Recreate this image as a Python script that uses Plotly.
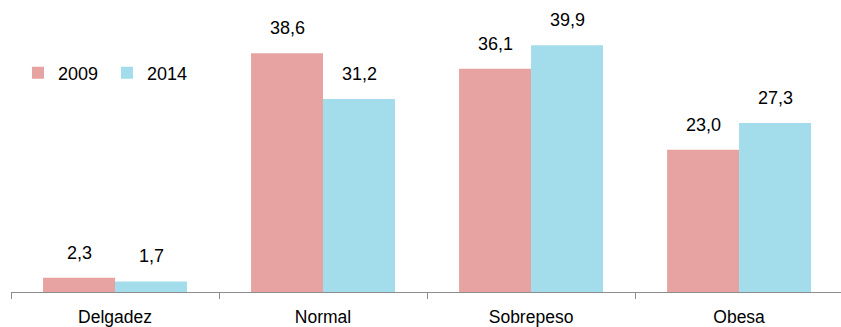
import plotly.graph_objects as go

categories = ["Delgadez", "Normal", "Sobrepeso", "Obesa"]
values_2009 = [2.3, 38.6, 36.1, 23.0]
values_2014 = [1.7, 31.2, 39.9, 27.3]
series_names = ["2009", "2014"]
colors = ["#E6A3A2", "#A3DCEA"]

font_family = "Liberation Sans, Arial, sans-serif"

fig = go.Figure()
for name, vals, col in zip(series_names, [values_2009, values_2014], colors):
    fig.add_trace(go.Bar(
        x=categories, y=vals, name=name, marker=dict(color=col, line=dict(width=0)),
    ))

# value labels above the bars
for vals, shift in zip([values_2009, values_2014], [-36, 36]):
    for c, v in zip(categories, vals):
        fig.add_annotation(
            x=c, y=v, xref="x", yref="y", text=f"{v:.1f}".replace(".", ","),
            showarrow=False, xshift=shift, yshift=13, yanchor="bottom", xanchor="center",
            font=dict(size=18, color="#000000", family=font_family),
        )

fig.update_layout(
    width=841, height=327,
    margin=dict(l=11, r=0, t=0, b=35),
    paper_bgcolor="white", plot_bgcolor="white",
    barmode="group", bargap=0.308, bargroupgap=0,
    font=dict(family=font_family, size=18, color="#000000"),
    showlegend=True,
    legend=dict(orientation="h", x=0.0084, y=0.75, xanchor="left", yanchor="middle",
                font=dict(size=18), bgcolor="rgba(0,0,0,0)", entrywidth=44,
                itemwidth=30),
)
fig.update_xaxes(
    range=[-0.5, 3.49], showgrid=False, showline=True, linecolor="#8C8C8C", linewidth=1.3,
    ticks="outside", ticklen=6, tickcolor="#8C8C8C", tickwidth=1.3, tickson="boundaries",
    ticklabelstandoff=9, tickfont=dict(size=17.5),
)
fig.update_yaxes(range=[0, 47.2], visible=False, showgrid=False, zeroline=False)

fig.write_html("out.html", config={"displayModeBar": False},
               post_script="document.body.style.margin='0';")
